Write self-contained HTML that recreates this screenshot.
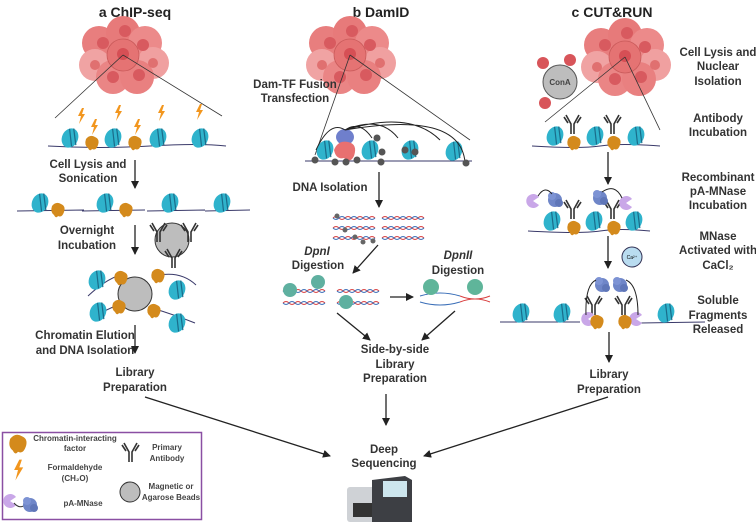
<!DOCTYPE html>
<html><head><meta charset="utf-8"><style>
html,body{margin:0;padding:0;background:#fff;}
svg{display:block;font-family:"Liberation Sans",sans-serif;}
.t{font-size:11.5px;font-weight:bold;fill:#333;text-anchor:middle;}
.h{font-size:14px;font-weight:bold;fill:#222;text-anchor:middle;}
.l{font-size:8px;font-weight:bold;fill:#444;text-anchor:middle;}
.ar{stroke:#222;stroke-width:1.3;fill:none;marker-end:url(#a);}
.dna{stroke:#3a3a6a;stroke-width:1;fill:none;}
</style></head><body>
<svg width="756" height="522" viewBox="0 0 756 522">
<defs>
<marker id="a" markerWidth="8" markerHeight="8" refX="7" refY="4" orient="auto" markerUnits="userSpaceOnUse"><path d="M0,0 L8,4 L0,8 z" fill="#222"/></marker>
<g id="nuc"><ellipse cx="0" cy="0" rx="8" ry="10" fill="#2fb3cc" transform="rotate(25)"/><path d="M-2,-9 L3,8 M2,-10 L7,6" stroke="#1a6c8a" stroke-width="1.2" transform="rotate(10)"/></g>
<g id="fac"><path d="M-6,-4 Q-2,-9 3,-6 Q8,-4 6,2 Q4,8 0,6 Q-2,9 -4,5 Q-8,2 -6,-4z" fill="#d48a1c"/></g>
<g id="bolt"><path d="M1,-8 L-3,0 L0,0 L-2,8 L4,-2 L1,-2 L3,-8z" fill="#f2961e"/></g>
<g id="ab"><path d="M0,10 L0,0 L-5,-9 M3,10 L3,0 L8,-9 M-3,-1 L-7,-7 M6,-1 L10,-7" stroke="#333" stroke-width="1.6" fill="none"/></g>
<g id="mn"><circle r="7" fill="#6f86c8"/><circle cx="-3" cy="-4" r="4" fill="#7d93d4"/><circle cx="4" cy="3" r="4" fill="#5f76b8"/></g>
<g id="pa"><path d="M0,0 L6,-4 A7,7 0 1 0 6,4 Z" fill="#c9a7e8"/></g>
<g id="cells">
<circle cx="-24" cy="-12" r="17" fill="#e87e7e"/><circle cx="0" cy="-22" r="17" fill="#e77a7a"/><circle cx="22" cy="-12" r="17" fill="#ec8a8a"/><circle cx="30" cy="8" r="16" fill="#f0a0a0"/><circle cx="-28" cy="10" r="16" fill="#f0a3a3"/><circle cx="-10" cy="22" r="17" fill="#ea8585"/><circle cx="14" cy="22" r="17" fill="#e98080"/><circle cx="0" cy="0" r="16" fill="#e57373" stroke="#c95a5a" stroke-width="0.8"/>
<circle cx="0" cy="-1" r="6" fill="#d64f55"/><circle cx="-20" cy="-12" r="6" fill="#d85a5f"/><circle cx="20" cy="-10" r="6" fill="#d85a5f"/><circle cx="-10" cy="22" r="6" fill="#d85a5f"/><circle cx="16" cy="20" r="6" fill="#d85a5f"/><circle cx="2" cy="-24" r="6" fill="#d85a5f"/><circle cx="30" cy="8" r="5" fill="#e07070"/><circle cx="-28" cy="10" r="5" fill="#e07070"/>
</g>
<g id="dnas"><path d="M0,0 q3,-3 6,0 t6,0 t6,0 t6,0 t6,0 t6,0 t6,0" stroke="#d94040" fill="none" stroke-width="1"/><path d="M0,0 q3,3 6,0 t6,0 t6,0 t6,0 t6,0 t6,0 t6,0" stroke="#3b6fb8" fill="none" stroke-width="1"/></g>
</defs>

<text x="135" y="17" class="h">a  ChIP-seq</text>
<text x="381" y="17" class="h">b  DamID</text>
<text x="612" y="17" class="h">c  CUT&amp;RUN</text>

<use href="#cells" x="123" y="55"/>
<path d="M123,55 L55,118 M123,55 L222,116" stroke="#333" stroke-width="0.8"/>
<path d="M48,146 Q100,149 150,146 T226,146" class="dna"/>
<use href="#nuc" x="70" y="138"/><use href="#nuc" x="113" y="138"/><use href="#nuc" x="158" y="138"/><use href="#nuc" x="200" y="138"/>
<use href="#fac" x="92" y="143"/><use href="#fac" x="135" y="143"/>
<use href="#bolt" x="81" y="116"/><use href="#bolt" x="94" y="127"/><use href="#bolt" x="118" y="113"/><use href="#bolt" x="137" y="127"/><use href="#bolt" x="161" y="113"/><use href="#bolt" x="199" y="112"/>
<text x="88" y="168" class="t">Cell Lysis and</text><text x="88" y="182" class="t">Sonication</text>
<line x1="135" y1="160" x2="135" y2="188" class="ar"/>
<path d="M17,211 L84,210 M82,211 L145,210 M147,211 L205,210 M205,211 L250,210" class="dna"/>
<use href="#nuc" x="40" y="203"/><use href="#nuc" x="105" y="203"/><use href="#nuc" x="170" y="203"/><use href="#nuc" x="222" y="203"/>
<use href="#fac" x="58" y="210"/><use href="#fac" x="126" y="210"/>
<text x="87" y="234" class="t">Overnight</text><text x="87" y="249" class="t">Incubation</text>
<line x1="135" y1="225" x2="135" y2="254" class="ar"/>
<circle cx="172" cy="240" r="17" fill="#bdbdbd" stroke="#333" stroke-width="1"/>
<use href="#ab" x="157" y="232"/><use href="#ab" x="188" y="232"/><use href="#ab" x="172" y="258"/>
<circle cx="135" cy="294" r="17" fill="#bdbdbd" stroke="#333" stroke-width="1"/>
<path d="M88,296 Q105,280 120,275 M155,276 Q180,270 196,285 M92,318 Q105,310 118,305 M152,308 Q175,315 195,323" class="dna"/>
<use href="#nuc" x="97" y="280"/><use href="#nuc" x="177" y="290"/><use href="#nuc" x="98" y="312"/><use href="#nuc" x="177" y="323"/>
<use href="#fac" x="121" y="278"/><use href="#fac" x="158" y="276"/><use href="#fac" x="119" y="307"/><use href="#fac" x="154" y="311"/>
<text x="85" y="339" class="t">Chromatin Elution</text><text x="85" y="354" class="t">and DNA Isolation</text>
<line x1="135" y1="325" x2="135" y2="353" class="ar"/>
<text x="135" y="376" class="t">Library</text><text x="135" y="391" class="t">Preparation</text>
<line x1="145" y1="397" x2="330" y2="456" class="ar"/>

<rect x="2.5" y="432.5" width="199" height="87" fill="#fff" stroke="#8a4fa3" stroke-width="1.5"/>
<g transform="translate(18,444) scale(1.3)"><use href="#fac"/></g>
<text x="75" y="441" class="l">Chromatin-interacting</text><text x="75" y="451" class="l">factor</text>
<g transform="translate(18,470) scale(1.3)"><use href="#bolt"/></g>
<text x="75" y="470" class="l">Formaldehyde</text><text x="75" y="481" class="l">(CH₂O)</text>
<use href="#pa" x="10" y="501"/><path d="M14,503 Q20,510 26,504" stroke="#333" fill="none"/><use href="#mn" x="30" y="505"/>
<text x="83" y="506" class="l">pA-MNase</text>
<use href="#ab" x="129" y="452"/>
<text x="167" y="450" class="l">Primary</text><text x="167" y="461" class="l">Antibody</text>
<circle cx="130" cy="492" r="10" fill="#bdbdbd" stroke="#333"/>
<text x="171" y="489" class="l">Magnetic or</text><text x="171" y="500" class="l">Agarose Beads</text>

<use href="#cells" x="350" y="55"/>
<path d="M350,55 L315,155 M350,55 L470,140" stroke="#333" stroke-width="0.8"/>
<text x="295" y="88" class="t">Dam-TF Fusion</text><text x="295" y="102" class="t">Transfection</text>
<path d="M305,161 L472,161" class="dna"/>
<use href="#nuc" x="325" y="150"/><use href="#nuc" x="370" y="150"/><use href="#nuc" x="410" y="150"/><use href="#nuc" x="454" y="151"/>
<ellipse cx="345" cy="137" rx="9" ry="8" fill="#6f7fcc"/><path d="M334,150 Q338,140 348,142 Q358,144 354,156 Q350,164 344,158 Q336,160 334,150z" fill="#e87070"/>
<path d="M345,130 Q330,120 316,150 M345,130 Q380,115 398,138 M345,130 Q410,110 440,140 M345,130 Q460,110 465,162 M345,130 Q360,120 372,138" stroke="#222" stroke-width="1" fill="none"/>
<g fill="#555"><circle cx="315" cy="160" r="3.5"/><circle cx="335" cy="162" r="3.5"/><circle cx="346" cy="162" r="3.5"/><circle cx="357" cy="160" r="3.5"/><circle cx="377" cy="138" r="3.5"/><circle cx="382" cy="152" r="3.5"/><circle cx="381" cy="162" r="3.5"/><circle cx="405" cy="150" r="3.5"/><circle cx="415" cy="152" r="3.5"/><circle cx="466" cy="163" r="3.5"/></g>
<text x="330" y="191" class="t">DNA Isolation</text>
<line x1="379" y1="172" x2="379" y2="207" class="ar"/>
<use href="#dnas" x="333" y="218"/><use href="#dnas" x="333" y="228"/><use href="#dnas" x="333" y="238"/>
<use href="#dnas" x="382" y="218"/><use href="#dnas" x="382" y="228"/><use href="#dnas" x="382" y="238"/>
<g fill="#666"><circle cx="337" cy="216" r="2.5"/><circle cx="345" cy="230" r="2.5"/><circle cx="355" cy="237" r="2.5"/><circle cx="363" cy="242" r="2.5"/><circle cx="373" cy="241" r="2.5"/></g>
<line x1="378" y1="245" x2="353" y2="273" class="ar"/>
<text x="317" y="255" class="t" font-style="italic">DpnI</text><text x="318" y="269" class="t">Digestion</text>
<text x="458" y="259" class="t" font-style="italic">DpnII</text><text x="458" y="274" class="t">Digestion</text>
<use href="#dnas" x="283" y="291"/><use href="#dnas" x="283" y="303"/><use href="#dnas" x="337" y="291"/><use href="#dnas" x="337" y="303"/>
<g fill="#5fb0a0"><circle cx="290" cy="290" r="7"/><circle cx="318" cy="282" r="7"/><circle cx="346" cy="302" r="7"/></g>
<line x1="390" y1="297" x2="413" y2="297" class="ar"/>
<path d="M420,296 q20,-6 40,0 M420,302 q20,6 40,0" stroke="#3b6fb8" fill="none"/><path d="M460,296 q15,6 30,0 M460,302 q15,-6 30,0" stroke="#d94040" fill="none"/>
<circle cx="431" cy="287" r="8" fill="#5fb59a"/><circle cx="475" cy="287" r="8" fill="#5fb59a"/>
<line x1="337" y1="313" x2="370" y2="340" class="ar"/>
<line x1="455" y1="311" x2="422" y2="340" class="ar"/>
<text x="395" y="353" class="t">Side-by-side</text><text x="395" y="368" class="t">Library</text><text x="395" y="382" class="t">Preparation</text>
<line x1="386" y1="394" x2="386" y2="425" class="ar"/>
<text x="384" y="453" class="t">Deep</text><text x="384" y="467" class="t">Sequencing</text>
<rect x="347" y="487" width="42" height="35" rx="3" fill="#cfd2d6"/>
<rect x="353" y="503" width="30" height="14" fill="#333"/>
<path d="M372,480 L405,476 L412,480 L412,522 L372,522z" fill="#3d3f44"/>
<rect x="383" y="481" width="24" height="16" fill="#cde6ee"/>

<use href="#cells" x="625" y="57"/>
<path d="M625,57 L545,122 M625,57 L660,130" stroke="#333" stroke-width="0.8"/>
<circle cx="543" cy="63" r="6" fill="#d8555a"/><circle cx="570" cy="60" r="6" fill="#d8555a"/><circle cx="545" cy="103" r="6" fill="#d8555a"/>
<circle cx="560" cy="82" r="17" fill="#bdbdbd" stroke="#555"/>
<text x="560" y="85" class="l" style="font-size:8px">ConA</text>
<path d="M532,146 Q580,149 600,146 T660,146" class="dna"/>
<use href="#nuc" x="555" y="136"/><use href="#nuc" x="595" y="136"/><use href="#nuc" x="636" y="136"/>
<use href="#fac" x="574" y="143"/><use href="#fac" x="614" y="143"/>
<use href="#ab" x="571" y="124"/><use href="#ab" x="611" y="124"/>
<line x1="608" y1="152" x2="608" y2="184" class="ar"/>
<path d="M528,231 Q580,234 600,231 T650,231" class="dna"/>
<use href="#nuc" x="552" y="221"/><use href="#nuc" x="594" y="221"/><use href="#nuc" x="634" y="221"/>
<use href="#fac" x="574" y="228"/><use href="#fac" x="614" y="228"/>
<use href="#ab" x="571" y="209"/><use href="#ab" x="611" y="209"/>
<use href="#mn" x="555" y="200"/><use href="#mn" x="600" y="198"/>
<use href="#pa" x="533" y="201"/><use href="#pa" x="626" y="203"/>
<path d="M538,196 Q545,185 552,194 M602,192 Q615,183 622,198" stroke="#222" fill="none"/>
<line x1="608" y1="236" x2="608" y2="268" class="ar"/>
<circle cx="632" cy="257" r="10" fill="#b9dcf0" stroke="#335"/>
<text x="632" y="259" style="font-size:5px" text-anchor="middle">Ca²⁺</text>
<path d="M500,322 L580,322 M640,323 L705,322" class="dna"/>
<use href="#nuc" x="521" y="313"/><use href="#nuc" x="562" y="313"/><use href="#nuc" x="666" y="313"/>
<use href="#mn" x="602" y="285"/><use href="#mn" x="620" y="285"/>
<use href="#ab" x="592" y="305"/><use href="#ab" x="622" y="305"/>
<use href="#pa" x="588" y="319"/><use href="#pa" x="636" y="319"/>
<use href="#fac" x="597" y="322"/><use href="#fac" x="625" y="322"/>
<path d="M596,280 Q585,285 586,315 M626,280 Q638,285 638,315" stroke="#222" fill="none"/>
<line x1="609" y1="332" x2="609" y2="362" class="ar"/>
<text x="609" y="378" class="t">Library</text><text x="609" y="393" class="t">Preparation</text>
<line x1="608" y1="397" x2="424" y2="456" class="ar"/>
<text x="718" y="56" class="t">Cell Lysis and</text><text x="718" y="70" class="t">Nuclear</text><text x="718" y="85" class="t">Isolation</text>
<text x="718" y="122" class="t">Antibody</text><text x="718" y="136" class="t">Incubation</text>
<text x="718" y="181" class="t">Recombinant</text><text x="718" y="195" class="t">pA-MNase</text><text x="718" y="209" class="t">Incubation</text>
<text x="718" y="240" class="t">MNase</text><text x="718" y="254" class="t">Activated with</text><text x="718" y="269" class="t">CaCl₂</text>
<text x="718" y="304" class="t">Soluble</text><text x="718" y="319" class="t">Fragments</text><text x="718" y="333" class="t">Released</text>
</svg>
</body></html>
